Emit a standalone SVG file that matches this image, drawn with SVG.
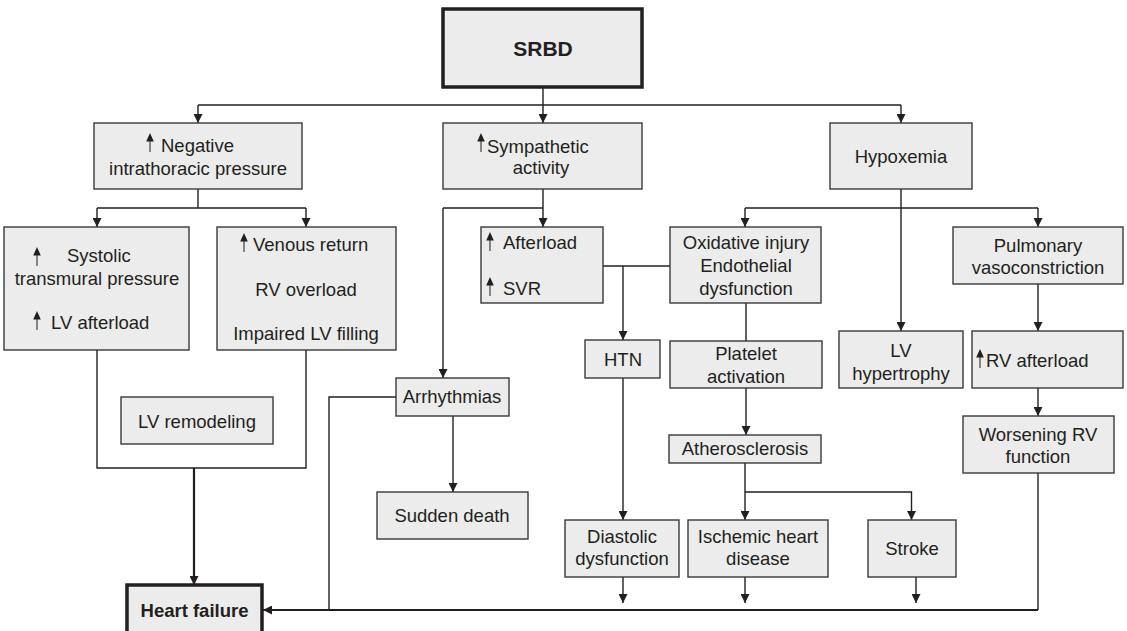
<svg xmlns="http://www.w3.org/2000/svg" xmlns:xlink="http://www.w3.org/1999/xlink" width="1127" height="631" viewBox="0 0 1127 631">
  <style>
    .box { fill: #ebeceb; stroke: #3a3a3a; stroke-width: 1.4; }
    .key { fill: #ebeceb; stroke: #231f20; stroke-width: 3.5; }
    .t { font-family: "Liberation Sans", Arial, sans-serif; font-size: 18.5px; fill: #231f20; }
    .c { text-anchor: middle; }
    .b { font-weight: bold; }
    .ln { fill: none; stroke: #231f20; stroke-width: 1.4; }
    .mid { stroke-width: 1.8; }
    .thick { stroke-width: 2.2; }
  </style>
  <defs>
    <marker id="arr" viewBox="0 0 10 10" refX="10" refY="5" markerWidth="10" markerHeight="9" markerUnits="userSpaceOnUse" orient="auto">
      <path d="M0,0 L10,5 L0,10 z" fill="#231f20"/>
    </marker>
    <!-- small "increase" arrow used inside labels; origin at the tip -->
    <g id="up">
      <line x1="0" y1="6" x2="0" y2="19" stroke="#5a5a5a" stroke-width="1.4"/>
      <path d="M-3.8,8.5 L0,0 L3.8,8.5 z" fill="#231f20"/>
    </g>
  </defs>

  <!-- connectors -->
  <g id="connectors" class="ln">
    <!-- SRBD fan-out -->
    <path d="M543,87 V123" marker-end="url(#arr)"/>
    <path d="M198,105 H901"/>
    <path d="M198,105 V123" marker-end="url(#arr)"/>
    <path d="M901,105 V123" marker-end="url(#arr)"/>
    <!-- negative intrathoracic pressure -->
    <path d="M198,189 V208"/>
    <path d="M97,208 H306"/>
    <path d="M97,208 V227" marker-end="url(#arr)"/>
    <path d="M306,208 V227" marker-end="url(#arr)"/>
    <!-- sympathetic activity -->
    <path d="M543,189 V227" marker-end="url(#arr)"/>
    <path d="M443,208 H543"/>
    <path d="M443,208 V378" marker-end="url(#arr)"/>
    <!-- hypoxemia -->
    <path d="M901,189 V331" marker-end="url(#arr)"/>
    <path d="M745,208 H1038"/>
    <path d="M745,208 V227" marker-end="url(#arr)"/>
    <path d="M1038,208 V227" marker-end="url(#arr)"/>
    <!-- LV remodeling enclosure -->
    <path d="M97,350 V468 H306 V350"/>
    <path class="thick" d="M194,468 V585" marker-end="url(#arr)"/>
    <!-- arrhythmias -->
    <path d="M396,397 H329 V610"/>
    <path d="M453,416 V492" marker-end="url(#arr)"/>
    <!-- afterload / oxidative link and HTN -->
    <path d="M603,266 H670"/>
    <path d="M623,266 V340" marker-end="url(#arr)"/>
    <path d="M623,378 V520" marker-end="url(#arr)"/>
    <!-- oxidative chain -->
    <path d="M746,303 V341"/>
    <path d="M746,388 V435" marker-end="url(#arr)"/>
    <path d="M745,463 V520" marker-end="url(#arr)"/>
    <path d="M745,492 H911.5 V520" marker-end="url(#arr)"/>
    <!-- pulmonary chain -->
    <path d="M1038,284 V331" marker-end="url(#arr)"/>
    <path d="M1038,388 V416" marker-end="url(#arr)"/>
    <!-- outcomes to heart failure -->
    <path d="M623,577 V603" marker-end="url(#arr)"/>
    <path d="M745,577 V603" marker-end="url(#arr)"/>
    <path d="M916,577 V603" marker-end="url(#arr)"/>
    <path d="M1038,473 V610"/>
    <path class="mid" d="M1038,610 H263" marker-end="url(#arr)"/>
  </g>

  <g id="srbd">
    <rect class="key" x="443" y="9" width="199" height="78"/>
    <text class="t c b" x="543" y="56" style="font-size:21px">SRBD</text>
  </g>

  <g id="negative-pressure">
    <rect class="box" x="94" y="123" width="208" height="66"/>
    <use xlink:href="#up" x="150" y="133"/>
    <text class="t" x="161" y="152">Negative</text>
    <text class="t c" x="198" y="175">intrathoracic pressure</text>
  </g>

  <g id="sympathetic">
    <rect class="box" x="443" y="123" width="199" height="66"/>
    <use xlink:href="#up" x="481" y="133"/>
    <text class="t" x="487" y="153">Sympathetic</text>
    <text class="t c" x="541" y="174">activity</text>
  </g>

  <g id="hypoxemia">
    <rect class="box" x="830" y="123" width="142" height="66"/>
    <text class="t c" x="901" y="163">Hypoxemia</text>
  </g>

  <g id="systolic">
    <rect class="box" x="4" y="227" width="185" height="123"/>
    <use xlink:href="#up" x="37" y="247"/>
    <text class="t" x="67" y="262">Systolic</text>
    <text class="t c" x="97" y="285">transmural pressure</text>
    <use xlink:href="#up" x="37" y="311"/>
    <text class="t" x="51" y="329">LV afterload</text>
  </g>

  <g id="venous">
    <rect class="box" x="217" y="227" width="179" height="123"/>
    <use xlink:href="#up" x="244" y="233"/>
    <text class="t" x="253" y="251">Venous return</text>
    <text class="t c" x="306" y="296">RV overload</text>
    <text class="t c" x="306" y="340">Impaired LV filling</text>
  </g>

  <g id="afterload">
    <rect class="box" x="481" y="227" width="122" height="76"/>
    <use xlink:href="#up" x="490" y="232"/>
    <text class="t" x="503" y="249">Afterload</text>
    <use xlink:href="#up" x="490" y="277"/>
    <text class="t" x="503" y="295">SVR</text>
  </g>

  <g id="oxidative">
    <rect class="box" x="670" y="227" width="151" height="76"/>
    <text class="t c" x="746" y="249">Oxidative injury</text>
    <text class="t c" x="746" y="272">Endothelial</text>
    <text class="t c" x="746" y="295">dysfunction</text>
  </g>

  <g id="pulmonary">
    <rect class="box" x="953" y="227" width="170" height="57"/>
    <text class="t c" x="1038" y="252">Pulmonary</text>
    <text class="t c" x="1038" y="274">vasoconstriction</text>
  </g>

  <g id="htn">
    <rect class="box" x="585" y="340" width="75" height="38"/>
    <text class="t c" x="623" y="366">HTN</text>
  </g>

  <g id="platelet">
    <rect class="box" x="670" y="341" width="152" height="47"/>
    <text class="t c" x="746" y="360">Platelet</text>
    <text class="t c" x="746" y="383">activation</text>
  </g>

  <g id="lv-hypertrophy">
    <rect class="box" x="839" y="331" width="124" height="57"/>
    <text class="t c" x="901" y="357">LV</text>
    <text class="t c" x="901" y="380">hypertrophy</text>
  </g>

  <g id="rv-afterload">
    <rect class="box" x="972" y="331" width="151" height="57"/>
    <use xlink:href="#up" x="980" y="349"/>
    <text class="t" x="986" y="367">RV afterload</text>
  </g>

  <g id="arrhythmias">
    <rect class="box" x="396" y="378" width="113" height="38"/>
    <text class="t c" x="452" y="403">Arrhythmias</text>
  </g>

  <g id="lv-remodeling">
    <rect class="box" x="121" y="397" width="152" height="47"/>
    <text class="t c" x="197" y="428">LV remodeling</text>
  </g>

  <g id="atherosclerosis">
    <rect class="box" x="669" y="435" width="152" height="28"/>
    <text class="t c" x="745" y="455">Atherosclerosis</text>
  </g>

  <g id="worsening-rv">
    <rect class="box" x="963" y="416" width="151" height="57"/>
    <text class="t c" x="1038" y="441">Worsening RV</text>
    <text class="t c" x="1038" y="463">function</text>
  </g>

  <g id="sudden-death">
    <rect class="box" x="377" y="492" width="151" height="47"/>
    <text class="t c" x="452" y="522">Sudden death</text>
  </g>

  <g id="diastolic">
    <rect class="box" x="565" y="520" width="114" height="57"/>
    <text class="t c" x="622" y="543">Diastolic</text>
    <text class="t c" x="622" y="565">dysfunction</text>
  </g>

  <g id="ischemic">
    <rect class="box" x="688" y="520" width="140" height="57"/>
    <text class="t c" x="758" y="543">Ischemic heart</text>
    <text class="t c" x="758" y="565">disease</text>
  </g>

  <g id="stroke">
    <rect class="box" x="868" y="520" width="88" height="57"/>
    <text class="t c" x="912" y="555">Stroke</text>
  </g>

  <g id="heart-failure">
    <rect class="key" x="127" y="585" width="135" height="60"/>
    <text class="t c b" x="194.5" y="617">Heart failure</text>
  </g>
</svg>
